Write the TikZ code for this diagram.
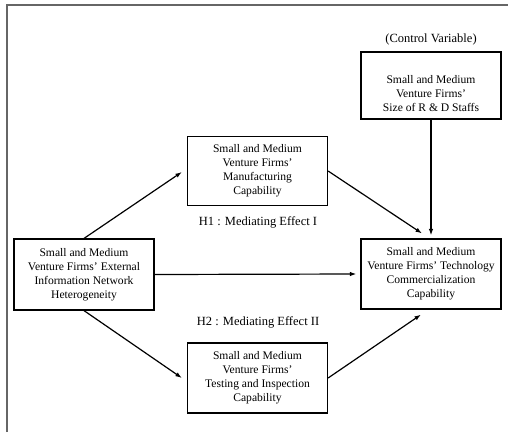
\documentclass[tikz,border=0pt]{standalone}
\usepackage{fontspec}
\setmainfont{Liberation Serif}
\usetikzlibrary{arrows.meta}
\begin{document}
\begin{tikzpicture}[x=1pt,y=-1pt,
  firmbox/.style={draw=black,line width=1.2pt,minimum width=140pt,minimum height=70pt,
    align=center,inner sep=0pt,font=\fontsize{11.6}{14}\selectfont},
  caption/.style={font=\fontsize{12.5}{15}\selectfont,inner sep=0pt},
  link/.style={line width=1.2pt,-{Latex[length=6.5pt,width=4.5pt]}}]
\useasboundingbox (0,0) rectangle (508,432);
% frame lines
\draw[line width=1.5pt,gray!80!black] (7,432) -- (7,5) -- (508,5);

% nodes
\node[firmbox,minimum height=67pt] (ctrl) at (431,85.5) {};
\node[align=center,inner sep=0pt,font=\fontsize{11.6}{14}\selectfont] (ctrltxt) at (431,93.5)
  {Small and Medium\\Venture Firms’\\Size of R \& D Staffs};
\node[caption] (ctrllab) at (431,39) {(Control Variable)};

\node[firmbox,minimum height=69pt] (manu) at (257.5,171) {Small and Medium\\Venture Firms’\\Manufacturing\\Capability};
\node[caption] (h1) at (258,222) {H1 : Mediating Effect I};

\node[firmbox,minimum height=71pt] (ext) at (84,274.5) {Small and Medium\\Venture Firms’ External\\Information Network\\Heterogeneity};
\node[firmbox] (tech) at (431,274) {Small and Medium\\Venture Firms’ Technology\\Commercialization\\Capability};

\node[caption] (h2) at (258,322) {H2 : Mediating Effect II};
\node[firmbox] (test) at (257.5,378) {Small and Medium\\Venture Firms’\\Testing and Inspection\\Capability};

% connectors
\draw[link] (ext.north) -- ([xshift=-5pt,yshift=-1pt]manu.west);
\draw[link] (ext.south) -- ([xshift=-5pt]test.west);
\draw[link] (ext.east) -- ([xshift=-4pt]tech.west);
\draw[link] (manu.east) -- ([xshift=-9pt,yshift=5pt]tech.north);
\draw[link] (ctrl.south) -- ([yshift=3pt]tech.north);
\draw[link] (test.east) -- ([xshift=-10pt,yshift=-5pt]tech.south);
\end{tikzpicture}
\end{document}
